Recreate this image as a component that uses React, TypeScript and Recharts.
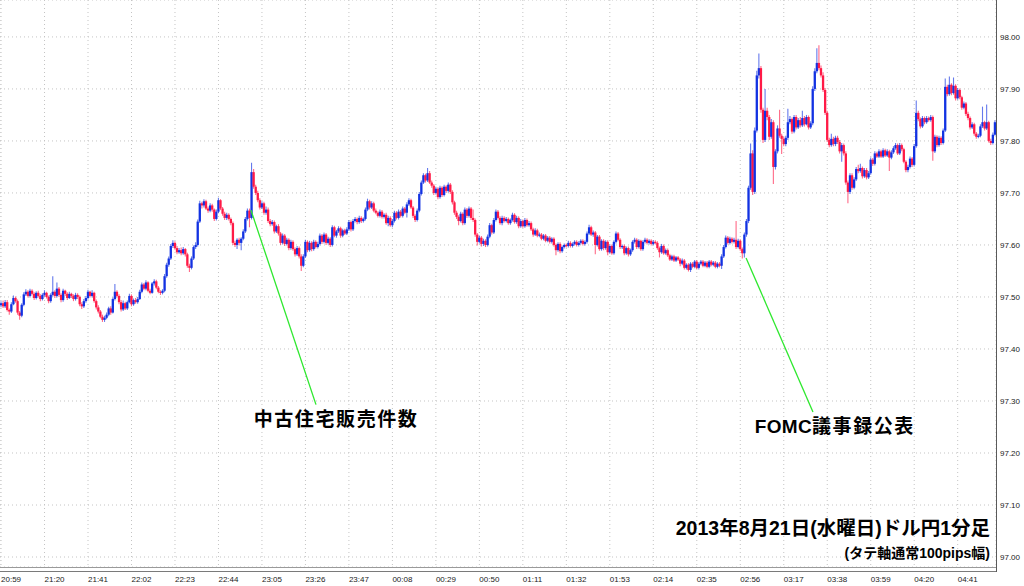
import { ComposedChart, Bar, XAxis, YAxis, CartesianGrid, ReferenceLine, ReferenceDot } from 'recharts'

// USD/JPY 1-minute candles, values in pips above 97.00 (20:59 .. 04:59)
const OPEN = [
  48.4, 48.8, 48.2, 49.0, 47.5, 47.2, 48.6, 49.8, 49.2, 47.0,
  46.4, 48.5, 50.5, 51.0, 50.2, 51.2, 50.6, 49.8, 50.8, 50.2,
  49.6, 50.4, 50.8, 50.0, 49.2, 50.4, 51.0, 50.2, 51.6, 50.4,
  49.4, 51.2, 50.6, 49.8, 50.6, 50.2, 49.6, 50.4, 50.0, 48.6,
  48.2, 49.2, 49.8, 51.0, 50.2, 50.8, 49.2, 48.0, 47.2, 46.2,
  45.6, 46.0, 46.6, 47.8, 47.0, 49.6, 51.0, 50.2, 49.0, 47.6,
  48.8, 47.8, 49.0, 50.2, 48.6, 49.4, 49.0, 49.6, 51.0, 52.4,
  51.6, 52.8, 51.2, 50.8, 52.6, 53.0, 51.8, 51.0, 50.8, 51.2,
  54.0, 56.2, 57.4, 59.8, 60.4, 59.4, 58.6, 59.0, 58.4, 59.2,
  58.2, 56.0, 55.6, 57.4, 59.6, 60.0, 64.5, 68.0, 67.6, 68.4,
  67.0, 66.6, 67.6, 66.8, 65.0, 66.4, 68.6, 67.0, 66.0, 65.2,
  65.8, 65.0, 64.2, 60.4, 60.0, 61.0, 60.4, 61.2, 62.6, 65.0,
  66.6, 65.2, 74.0, 71.2, 70.0, 68.6, 67.2, 68.0, 66.2, 66.8,
  64.6, 64.0, 64.4, 62.6, 63.6, 62.2, 60.4, 61.8, 60.2, 61.0,
  59.4, 60.6, 59.2, 58.2, 59.4, 57.8, 56.0, 57.8, 60.6, 59.0,
  60.4, 59.2, 60.6, 59.6, 60.2, 61.8, 60.6, 62.0, 60.4, 61.2,
  60.0, 63.4, 61.8, 62.6, 63.2, 61.8, 62.8, 62.2, 63.0, 64.4,
  63.0, 64.6, 65.0, 64.4, 65.2, 64.6, 65.0, 66.8, 68.4, 67.2,
  68.0, 66.6, 66.2, 65.6, 66.4, 65.4, 65.8, 64.2, 65.2, 63.8,
  64.6, 66.2, 65.2, 66.4, 65.6, 67.0, 66.2, 67.8, 68.6, 67.2,
  65.6, 64.8, 66.6, 69.8, 72.0, 73.4, 72.4, 73.8, 72.0, 71.4,
  70.0, 70.8, 69.2, 71.0, 69.6, 71.2, 70.4, 71.6, 70.2, 68.2,
  66.2, 65.4, 64.6, 66.0, 64.2, 66.8, 65.6, 67.0, 65.2, 64.8,
  62.0, 60.6, 61.4, 60.2, 60.8, 60.0, 61.6, 63.8, 62.4, 64.8,
  66.4, 65.2, 64.2, 65.2, 64.6, 65.0, 64.2, 64.8, 65.8, 64.4,
  65.2, 63.6, 64.6, 63.6, 64.8, 63.8, 64.2, 63.0, 62.0, 62.8,
  61.8, 62.0, 61.2, 61.8, 60.8, 61.4, 60.6, 61.2, 60.0, 59.0,
  60.2, 58.8, 59.6, 60.0, 59.8, 60.4, 59.8, 60.2, 60.6, 60.0,
  60.4, 60.8, 60.2, 60.6, 62.2, 63.4, 62.0, 62.4, 60.0, 61.6,
  59.2, 60.8, 59.4, 60.6, 58.6, 59.8, 58.4, 60.6, 62.2, 61.0,
  59.6, 59.8, 58.4, 59.4, 58.2, 59.0, 60.6, 61.0, 59.6, 60.8,
  59.2, 60.6, 61.0, 60.4, 60.8, 60.2, 60.6, 60.4, 59.4, 58.6,
  59.8, 58.4, 59.0, 58.0, 57.2, 57.8, 57.0, 57.6, 57.2, 56.4,
  57.0, 55.6, 56.2, 55.2, 56.4, 55.8, 56.8, 55.6, 56.4, 56.8,
  56.0, 56.6, 55.8, 56.8, 56.2, 56.6, 55.8, 56.4, 56.0, 57.8,
  59.6, 61.4, 60.4, 61.2, 60.6, 61.0, 59.6, 60.8, 59.2, 58.4,
  62.0, 64.6, 71.0, 77.6, 70.2, 82.0, 92.6, 94.0, 86.0, 80.2,
  85.8, 84.6, 80.8, 83.6, 75.0, 78.0, 82.4, 81.0, 80.4, 79.4,
  80.6, 83.6, 84.2, 81.8, 84.6, 82.6, 84.0, 83.0, 84.4, 83.2,
  84.6, 82.6, 83.4, 90.0, 93.4, 95.0, 94.0, 92.6, 89.8, 85.4,
  80.2, 79.2, 80.4, 79.4, 80.6, 79.8, 78.0, 79.2, 77.6, 72.0,
  70.2, 73.4, 71.0, 72.6, 74.6, 74.2, 74.8, 73.2, 74.4, 73.0,
  73.8, 76.4, 75.6, 77.6, 77.0, 78.0, 77.0, 78.2, 77.2, 78.0,
  76.8, 77.8, 78.6, 79.2, 77.6, 79.2, 78.4, 76.0, 74.4, 75.0,
  76.6, 75.4, 79.0, 85.4, 84.2, 82.8, 84.4, 83.6, 84.4, 84.0,
  84.6, 78.0, 80.8, 79.2, 80.6, 79.6, 82.0, 90.4, 89.0, 90.8,
  89.2, 90.6, 88.2, 89.8, 88.4, 86.4, 87.2, 85.2, 84.4, 82.6,
  83.2, 81.4, 80.8, 81.0, 82.8, 83.6, 82.4, 83.6, 80.0, 79.6, 81.2,
]

const HIGH = [
  49.2, 49.3, 49.4, 49.4, 47.8, 49.0, 50.3, 50.1, 49.5, 47.3,
  48.8, 50.9, 51.5, 51.3, 51.6, 51.5, 50.9, 51.1, 51.2, 50.5,
  50.7, 51.3, 51.0, 50.3, 50.7, 54.0, 51.3, 52.8, 51.9, 50.7,
  51.6, 51.4, 50.9, 51.0, 50.8, 50.5, 50.8, 50.7, 50.3, 49.0,
  49.6, 50.2, 51.4, 51.2, 51.3, 51.0, 49.5, 48.4, 47.5, 46.6,
  46.4, 47.0, 48.1, 48.2, 49.9, 52.5, 51.3, 50.5, 49.4, 49.3,
  49.1, 49.3, 50.6, 50.5, 49.7, 49.8, 50.0, 51.4, 52.8, 52.7,
  53.2, 53.0, 51.6, 52.9, 53.4, 53.3, 52.1, 51.3, 51.5, 54.4,
  56.6, 57.8, 60.2, 60.9, 60.7, 59.8, 59.4, 59.5, 59.6, 59.4,
  58.5, 56.4, 57.8, 59.9, 60.5, 64.9, 68.5, 68.3, 68.8, 68.7,
  67.4, 68.0, 67.9, 67.0, 66.8, 69.1, 68.8, 67.3, 66.4, 66.2,
  66.1, 65.3, 64.5, 60.8, 61.3, 61.4, 61.5, 63.0, 65.4, 67.0,
  67.0, 75.8, 74.6, 71.6, 70.4, 69.0, 68.4, 68.3, 67.4, 67.2,
  65.0, 64.8, 64.7, 63.9, 64.0, 62.5, 62.2, 62.1, 61.4, 61.3,
  61.0, 60.9, 59.5, 59.8, 59.7, 58.2, 58.2, 61.0, 60.9, 60.8,
  60.7, 61.0, 60.9, 60.6, 62.2, 62.1, 62.4, 62.3, 61.6, 61.5,
  63.8, 63.7, 62.9, 63.6, 63.5, 63.1, 63.1, 63.4, 64.8, 64.7,
  65.0, 65.4, 65.3, 65.6, 65.5, 65.3, 67.2, 68.9, 68.7, 68.4,
  68.3, 67.0, 66.5, 66.8, 66.7, 66.1, 66.2, 65.6, 65.5, 65.0,
  66.6, 66.5, 66.8, 66.7, 67.4, 67.3, 68.2, 69.0, 68.9, 67.5,
  65.9, 67.0, 70.2, 72.4, 73.8, 73.7, 74.8, 74.2, 72.4, 71.7,
  71.2, 71.1, 71.4, 71.3, 71.6, 71.5, 72.0, 71.9, 70.5, 68.5,
  66.6, 65.7, 66.4, 66.3, 67.2, 67.1, 67.4, 67.3, 66.8, 65.1,
  62.3, 61.8, 61.7, 61.2, 61.1, 62.0, 64.2, 64.1, 65.2, 66.8,
  66.7, 65.5, 65.6, 65.5, 65.4, 65.3, 65.1, 66.2, 66.1, 65.6,
  65.5, 65.0, 64.9, 65.2, 65.1, 64.6, 64.5, 63.3, 63.2, 63.1,
  62.4, 62.3, 62.1, 62.1, 61.7, 61.7, 61.5, 61.5, 60.3, 60.5,
  60.5, 59.9, 60.3, 60.3, 60.8, 60.7, 60.5, 60.9, 60.9, 60.7,
  61.1, 61.1, 60.9, 62.6, 63.9, 63.7, 62.8, 62.7, 61.9, 61.9,
  61.1, 61.1, 60.9, 60.9, 60.1, 60.1, 60.9, 62.6, 62.5, 61.3,
  60.1, 60.1, 59.7, 59.7, 59.3, 60.9, 61.4, 61.3, 61.1, 61.0,
  60.9, 61.4, 61.3, 61.1, 61.1, 60.9, 60.9, 60.7, 59.7, 60.2,
  60.1, 59.3, 59.3, 58.3, 58.1, 58.1, 57.9, 57.9, 57.5, 57.4,
  57.3, 56.5, 56.5, 56.7, 56.7, 57.1, 57.1, 56.7, 57.1, 57.1,
  56.9, 56.9, 57.1, 57.1, 56.9, 56.9, 56.7, 56.7, 58.2, 60.0,
  61.8, 61.7, 61.6, 61.5, 61.4, 64.6, 61.2, 61.1, 59.5, 62.4,
  65.0, 71.4, 79.5, 78.2, 82.6, 93.5, 96.8, 94.4, 86.4, 90.0,
  86.4, 85.0, 84.2, 84.0, 78.4, 83.0, 86.0, 81.4, 80.8, 81.0,
  86.2, 84.8, 84.5, 85.0, 85.0, 84.4, 84.6, 85.8, 84.8, 85.0,
  84.9, 83.8, 90.5, 94.0, 97.8, 98.4, 94.5, 93.2, 90.2, 85.8,
  80.6, 81.4, 80.8, 81.0, 81.0, 80.2, 79.6, 79.5, 78.0, 72.4,
  73.8, 73.8, 73.0, 75.0, 75.4, 75.6, 75.1, 74.8, 74.8, 74.2,
  76.8, 76.7, 78.0, 77.9, 78.4, 78.3, 78.6, 78.5, 78.4, 78.3,
  78.2, 79.0, 79.6, 79.5, 79.6, 79.5, 78.7, 76.3, 75.4, 77.0,
  76.9, 79.4, 87.8, 85.8, 84.5, 84.8, 84.7, 84.8, 84.7, 85.0,
  84.9, 81.2, 81.1, 81.0, 80.9, 82.4, 92.0, 90.8, 92.4, 91.1,
  92.2, 90.9, 90.2, 90.1, 88.7, 87.6, 87.5, 85.6, 84.7, 83.6,
  83.5, 81.7, 81.4, 83.2, 86.6, 83.9, 87.0, 83.9, 80.4, 81.6, 84.0,
]

const LOW = [
  48.0, 47.9, 47.9, 47.2, 46.6, 46.9, 48.4, 48.9, 46.6, 45.6,
  46.1, 48.2, 50.2, 49.9, 49.9, 50.3, 49.4, 49.5, 49.9, 49.2,
  49.3, 50.1, 49.7, 48.8, 48.9, 50.1, 49.8, 49.9, 50.0, 49.0,
  49.1, 50.2, 49.4, 49.6, 49.8, 49.2, 49.3, 49.6, 48.2, 47.7,
  47.9, 48.9, 49.5, 49.9, 49.9, 48.9, 47.6, 46.8, 45.9, 45.2,
  45.2, 45.7, 46.3, 46.6, 46.8, 49.3, 49.9, 48.6, 47.2, 47.3,
  47.5, 47.5, 48.8, 48.2, 48.3, 48.7, 48.7, 49.4, 50.7, 51.3,
  51.3, 50.9, 50.5, 50.6, 52.2, 51.5, 50.7, 50.4, 50.5, 50.9,
  53.7, 55.8, 57.1, 59.4, 59.1, 58.2, 58.3, 58.0, 58.1, 57.8,
  55.6, 54.8, 55.3, 57.1, 59.2, 59.7, 64.2, 67.0, 67.2, 66.7,
  66.2, 66.3, 66.4, 64.6, 64.7, 66.1, 66.7, 65.6, 64.8, 64.8,
  64.7, 63.8, 60.0, 59.6, 59.2, 59.9, 59.0, 60.9, 62.3, 64.7,
  63.4, 64.9, 70.8, 69.6, 68.2, 66.8, 66.9, 65.8, 65.8, 64.2,
  63.6, 63.7, 62.2, 62.3, 61.8, 60.0, 60.1, 59.8, 59.9, 59.0,
  59.1, 58.9, 57.8, 57.9, 57.4, 55.0, 55.7, 57.5, 58.6, 58.7,
  58.8, 58.9, 59.3, 59.3, 59.9, 60.2, 60.3, 60.0, 60.1, 59.6,
  59.7, 61.5, 61.4, 62.3, 61.4, 61.5, 61.9, 61.9, 62.7, 62.6,
  62.7, 64.3, 64.0, 64.1, 64.2, 64.3, 64.7, 66.5, 66.8, 66.9,
  66.3, 65.9, 65.3, 65.3, 65.1, 65.1, 63.9, 63.6, 63.5, 63.4,
  64.3, 64.9, 64.9, 65.3, 65.3, 65.9, 65.3, 67.5, 66.9, 65.2,
  64.4, 64.5, 66.3, 69.5, 71.7, 72.0, 72.1, 71.7, 71.0, 69.6,
  69.7, 68.8, 68.9, 69.2, 69.3, 70.0, 70.1, 69.8, 67.8, 65.8,
  65.0, 63.8, 64.3, 63.8, 63.9, 65.2, 65.3, 64.8, 64.4, 61.6,
  59.9, 60.3, 59.7, 59.8, 59.6, 59.7, 61.3, 62.0, 62.1, 64.5,
  64.9, 63.9, 63.8, 64.3, 64.3, 63.9, 63.9, 64.5, 64.1, 64.1,
  63.2, 63.3, 63.3, 63.3, 63.5, 63.5, 62.7, 61.6, 61.7, 61.5,
  61.5, 60.9, 60.9, 60.5, 60.5, 60.3, 60.3, 59.7, 58.0, 58.7,
  58.4, 58.5, 59.3, 59.5, 59.5, 59.5, 59.5, 59.9, 59.7, 59.7,
  60.1, 59.9, 59.9, 60.3, 61.9, 61.7, 61.6, 58.2, 59.7, 58.9,
  58.9, 59.0, 59.1, 58.0, 58.3, 58.1, 58.1, 60.3, 60.7, 59.2,
  59.2, 58.0, 58.1, 57.8, 57.9, 58.7, 60.3, 59.2, 59.3, 58.9,
  58.9, 60.3, 60.1, 60.1, 59.9, 59.9, 60.1, 59.1, 57.6, 58.3,
  58.1, 58.1, 57.7, 56.9, 56.9, 56.7, 56.7, 56.9, 55.9, 56.1,
  55.3, 55.3, 54.9, 54.8, 55.5, 55.5, 55.3, 55.3, 56.1, 55.7,
  55.7, 55.5, 55.5, 55.9, 55.9, 55.5, 55.5, 55.7, 55.4, 57.5,
  59.3, 60.1, 60.1, 60.3, 60.3, 59.2, 59.3, 58.9, 57.4, 57.6,
  61.6, 64.2, 70.6, 69.6, 69.8, 81.6, 92.0, 85.4, 79.6, 79.8,
  84.0, 80.2, 80.4, 71.7, 74.5, 77.6, 80.6, 77.5, 79.0, 79.0,
  80.2, 83.2, 81.4, 81.5, 82.2, 82.3, 82.6, 82.7, 82.8, 83.0,
  82.2, 82.3, 83.0, 89.6, 93.0, 93.6, 92.2, 89.4, 85.0, 79.8,
  78.8, 78.9, 79.0, 79.0, 79.4, 77.6, 76.0, 77.2, 71.6, 68.0,
  69.8, 70.6, 70.7, 72.3, 73.8, 73.9, 72.8, 72.9, 72.6, 72.7,
  73.5, 75.2, 75.3, 76.7, 76.7, 76.7, 76.7, 76.9, 76.9, 74.2,
  76.5, 77.5, 78.3, 77.3, 77.3, 78.0, 75.7, 74.0, 74.0, 74.7,
  75.0, 75.1, 78.7, 83.8, 82.4, 82.5, 83.2, 83.3, 83.7, 83.7,
  76.2, 77.7, 78.8, 78.9, 79.2, 79.3, 81.7, 88.6, 88.7, 88.8,
  88.9, 87.8, 87.9, 88.0, 86.0, 86.1, 84.8, 84.0, 82.2, 82.3,
  81.0, 80.4, 80.5, 80.7, 82.5, 82.0, 82.1, 79.7, 79.2, 79.3, 81.0,
]

const CLOSE = [
  48.8, 48.2, 49.0, 47.5, 47.2, 48.6, 49.8, 49.2, 47.0, 46.4,
  48.5, 50.5, 51.0, 50.2, 51.2, 50.6, 49.8, 50.8, 50.2, 49.6,
  50.4, 50.8, 50.0, 49.2, 50.4, 51.0, 50.2, 51.6, 50.4, 49.4,
  51.2, 50.6, 49.8, 50.6, 50.2, 49.6, 50.4, 50.0, 48.6, 48.2,
  49.2, 49.8, 51.0, 50.2, 50.8, 49.2, 48.0, 47.2, 46.2, 45.6,
  46.0, 46.6, 47.8, 47.0, 49.6, 51.0, 50.2, 49.0, 47.6, 48.8,
  47.8, 49.0, 50.2, 48.6, 49.4, 49.0, 49.6, 51.0, 52.4, 51.6,
  52.8, 51.2, 50.8, 52.6, 53.0, 51.8, 51.0, 50.8, 51.2, 54.0,
  56.2, 57.4, 59.8, 60.4, 59.4, 58.6, 59.0, 58.4, 59.2, 58.2,
  56.0, 55.6, 57.4, 59.6, 60.0, 64.5, 68.0, 67.6, 68.4, 67.0,
  66.6, 67.6, 66.8, 65.0, 66.4, 68.6, 67.0, 66.0, 65.2, 65.8,
  65.0, 64.2, 60.4, 60.0, 61.0, 60.4, 61.2, 62.6, 65.0, 66.6,
  65.2, 74.0, 71.2, 70.0, 68.6, 67.2, 68.0, 66.2, 66.8, 64.6,
  64.0, 64.4, 62.6, 63.6, 62.2, 60.4, 61.8, 60.2, 61.0, 59.4,
  60.6, 59.2, 58.2, 59.4, 57.8, 56.0, 57.8, 60.6, 59.0, 60.4,
  59.2, 60.6, 59.6, 60.2, 61.8, 60.6, 62.0, 60.4, 61.2, 60.0,
  63.4, 61.8, 62.6, 63.2, 61.8, 62.8, 62.2, 63.0, 64.4, 63.0,
  64.6, 65.0, 64.4, 65.2, 64.6, 65.0, 66.8, 68.4, 67.2, 68.0,
  66.6, 66.2, 65.6, 66.4, 65.4, 65.8, 64.2, 65.2, 63.8, 64.6,
  66.2, 65.2, 66.4, 65.6, 67.0, 66.2, 67.8, 68.6, 67.2, 65.6,
  64.8, 66.6, 69.8, 72.0, 73.4, 72.4, 73.8, 72.0, 71.4, 70.0,
  70.8, 69.2, 71.0, 69.6, 71.2, 70.4, 71.6, 70.2, 68.2, 66.2,
  65.4, 64.6, 66.0, 64.2, 66.8, 65.6, 67.0, 65.2, 64.8, 62.0,
  60.6, 61.4, 60.2, 60.8, 60.0, 61.6, 63.8, 62.4, 64.8, 66.4,
  65.2, 64.2, 65.2, 64.6, 65.0, 64.2, 64.8, 65.8, 64.4, 65.2,
  63.6, 64.6, 63.6, 64.8, 63.8, 64.2, 63.0, 62.0, 62.8, 61.8,
  62.0, 61.2, 61.8, 60.8, 61.4, 60.6, 61.2, 60.0, 59.0, 60.2,
  58.8, 59.6, 60.0, 59.8, 60.4, 59.8, 60.2, 60.6, 60.0, 60.4,
  60.8, 60.2, 60.6, 62.2, 63.4, 62.0, 62.4, 60.0, 61.6, 59.2,
  60.8, 59.4, 60.6, 58.6, 59.8, 58.4, 60.6, 62.2, 61.0, 59.6,
  59.8, 58.4, 59.4, 58.2, 59.0, 60.6, 61.0, 59.6, 60.8, 59.2,
  60.6, 61.0, 60.4, 60.8, 60.2, 60.6, 60.4, 59.4, 58.6, 59.8,
  58.4, 59.0, 58.0, 57.2, 57.8, 57.0, 57.6, 57.2, 56.4, 57.0,
  55.6, 56.2, 55.2, 56.4, 55.8, 56.8, 55.6, 56.4, 56.8, 56.0,
  56.6, 55.8, 56.8, 56.2, 56.6, 55.8, 56.4, 56.0, 57.8, 59.6,
  61.4, 60.4, 61.2, 60.6, 61.0, 59.6, 60.8, 59.2, 58.4, 62.0,
  64.6, 71.0, 77.6, 70.2, 82.0, 92.6, 94.0, 86.0, 80.2, 85.8,
  84.6, 80.8, 83.6, 75.0, 78.0, 82.4, 81.0, 80.4, 79.4, 80.6,
  83.6, 84.2, 81.8, 84.6, 82.6, 84.0, 83.0, 84.4, 83.2, 84.6,
  82.6, 83.4, 90.0, 93.4, 95.0, 94.0, 92.6, 89.8, 85.4, 80.2,
  79.2, 80.4, 79.4, 80.6, 79.8, 78.0, 79.2, 77.6, 72.0, 70.2,
  73.4, 71.0, 72.6, 74.6, 74.2, 74.8, 73.2, 74.4, 73.0, 73.8,
  76.4, 75.6, 77.6, 77.0, 78.0, 77.0, 78.2, 77.2, 78.0, 76.8,
  77.8, 78.6, 79.2, 77.6, 79.2, 78.4, 76.0, 74.4, 75.0, 76.6,
  75.4, 79.0, 85.4, 84.2, 82.8, 84.4, 83.6, 84.4, 84.0, 84.6,
  78.0, 80.8, 79.2, 80.6, 79.6, 82.0, 90.4, 89.0, 90.8, 89.2,
  90.6, 88.2, 89.8, 88.4, 86.4, 87.2, 85.2, 84.4, 82.6, 83.2,
  81.4, 80.8, 81.0, 82.8, 83.6, 82.4, 83.6, 80.0, 79.6, 81.2, 83.6,
]

const TIME_LABELS = [
  '20:59', '21:20', '21:41', '22:02', '22:23', '22:44', '23:05', '23:26',
  '23:47', '00:08', '00:29', '00:50', '01:11', '01:32', '01:53', '02:14',
  '02:35', '02:56', '03:17', '03:38', '03:59', '04:20', '04:41',
]
const BARS_PER_LABEL = 21
const Y_TICKS = [0, 10, 20, 30, 40, 50, 60, 70, 80, 90, 100]

const UP = '#1232e2'
const DOWN = '#ff1a46'
const FONT = "'Liberation Sans', 'Noto Sans CJK JP', sans-serif"

const data = CLOSE.map((c, i) => ({ i, o: OPEN[i], h: HIGH[i], l: LOW[i], c }))
const xTicks = TIME_LABELS.map((_, k) => k * BARS_PER_LABEL)

function Candle(props: any) {
  const { x, y, width, height, payload } = props
  const { o, h, l, c } = payload
  const cx = x + width / 2
  const top = height >= 0 ? y : y + height
  const span = Math.abs(height)
  const k = h > l ? span / (h - l) : 0
  const bodyTop = top + (h - Math.max(o, c)) * k
  const bodyH = Math.max(Math.abs(o - c) * k, 1.2)
  const col = c >= o ? UP : DOWN
  return (
    <g>
      <line x1={cx} x2={cx} y1={top} y2={top + span} stroke={col} strokeOpacity={0.65} strokeWidth={1.1} />
      <rect x={cx - 1.15} y={bodyTop} width={2.3} height={bodyH} fill={col} />
    </g>
  )
}

function TimeTick({ x, y, payload }: any) {
  const label = TIME_LABELS[Math.round(payload.value / BARS_PER_LABEL)]
  return (
    <text x={x} y={y + 15} fontSize={8} fill="#222" fontFamily={FONT} textAnchor="start">{label}</text>
  )
}

function PriceTick({ x, y, payload }: any) {
  return (
    <text x={x + 4} y={y + 3} fontSize={8} fill="#222" fontFamily={FONT} textAnchor="start">
      {(97 + payload.value / 100).toFixed(2)}
    </text>
  )
}

// annotation text: latin part tight, japanese part a little spaced
const noteLabel = (latin: string, jp: string) => ({ viewBox }: any) => (
  <text
    x={viewBox.x + viewBox.width / 2}
    y={viewBox.y + viewBox.height / 2}
    textAnchor="middle"
    dominantBaseline="central"
    fontSize={19}
    fontWeight="bold"
    fontFamily={FONT}
    fill="#000"
  >
    {latin && <tspan letterSpacing={0.3}>{latin}</tspan>}
    <tspan letterSpacing={1.6}>{jp}</tspan>
  </text>
)

export default function App() {
  return (
    <div style={{ position: 'fixed', left: 0, top: 0, width: 1024, height: 586, background: '#fff' }}>
      <ComposedChart width={1024} height={586} data={data} margin={{ top: 0, right: 0, bottom: 0, left: 0 }}>
        <CartesianGrid stroke="#c4c4c4" strokeDasharray="1 3" />
        <XAxis
          dataKey="i"
          type="number"
          domain={[-0.5, 480.5]}
          ticks={xTicks}
          interval={0}
          height={19}
          tickSize={0}
          tickMargin={0}
          axisLine={false}
          tickLine={false}
          tick={<TimeTick />}
        />
        <YAxis
          orientation="right"
          type="number"
          domain={[-1.92, 107.1]}
          allowDataOverflow
          ticks={Y_TICKS}
          interval={0}
          width={28}
          tickSize={0}
          tickMargin={0}
          axisLine={false}
          tickLine={false}
          tick={<PriceTick />}
        />
        <Bar dataKey={(d: any) => [d.l, d.h]} barSize={2} shape={<Candle />} isAnimationActive={false} />
        <ReferenceLine segment={[{ x: 120.7, y: 66.7 }, { x: 152.1, y: 29.3 }]} stroke="#2ee82e" strokeWidth={1.3} />
        <ReferenceLine segment={[{ x: 359.8, y: 57.5 }, { x: 392.1, y: 27.9 }]} stroke="#2ee82e" strokeWidth={1.3} />
        <ReferenceDot x={161.8} y={26.5} r={1} fill="none" stroke="none" label={noteLabel('', '中古住宅販売件数')} />
        <ReferenceDot x={402.7} y={25.1} r={1} fill="none" stroke="none" label={noteLabel('FOMC', '議事録公表')} />
      </ComposedChart>
      <svg width={1024} height={586} style={{ position: 'absolute', left: 0, top: 0, pointerEvents: 'none' }}>
        <line x1={0} x2={996} y1={567.5} y2={567.5} stroke="#9a9a9a" strokeWidth={1} />
        <line x1={0} x2={996} y1={571.5} y2={571.5} stroke="#7a7a7a" strokeWidth={1.2} />
        <line x1={996.5} x2={996.5} y1={0} y2={572} stroke="#5a5a5a" strokeWidth={1} />
        <text x={990} y={535} textAnchor="end" fontSize={19.5} fontWeight="bold" fontFamily={FONT} fill="#000">
          2013年8月21日(水曜日)ドル円1分足
        </text>
        <text x={990} y={558} textAnchor="end" fontSize={14} fontWeight="bold" fontFamily={FONT} fill="#000">
          (タテ軸通常100pips幅)
        </text>
      </svg>
    </div>
  )
}
